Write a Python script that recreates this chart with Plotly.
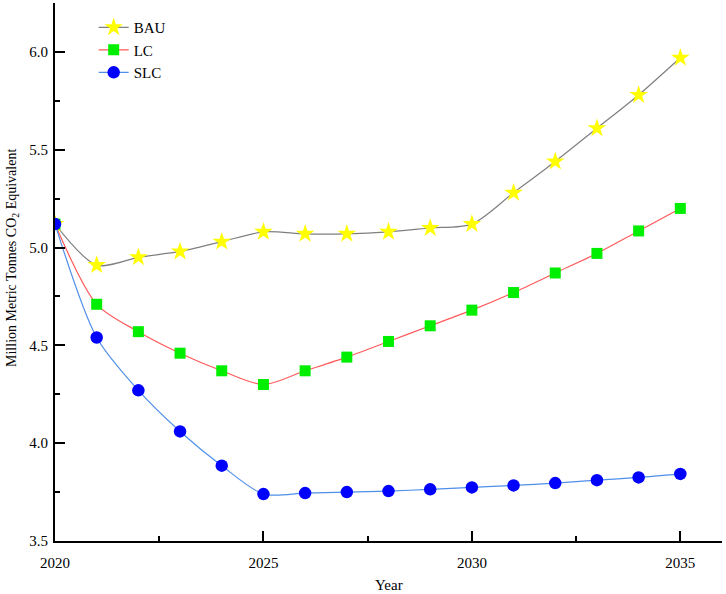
import plotly.graph_objects as go

years = list(range(2020, 2036))
bau = [5.12, 4.91, 4.95, 4.98, 5.03, 5.08, 5.07, 5.07, 5.08, 5.10, 5.12, 5.28, 5.44, 5.61, 5.78, 5.97]
lc = [5.12, 4.71, 4.57, 4.46, 4.37, 4.30, 4.37, 4.44, 4.52, 4.60, 4.68, 4.77, 4.87, 4.97, 5.085, 5.20]
slc = [5.12, 4.54, 4.27, 4.06, 3.885, 3.74, 3.745, 3.75, 3.755, 3.764, 3.774, 3.784, 3.796, 3.811, 3.825, 3.843]

font = "Liberation Serif, Times New Roman, serif"

fig = go.Figure()
fig.add_trace(go.Scatter(x=years, y=bau, name="BAU", mode="lines+markers",
                         line=dict(color="#7f7f7f", width=1.2, shape="spline", smoothing=0.8),
                         marker=dict(symbol="star", size=14, color="#ffff00", line=dict(width=0))))
fig.add_trace(go.Scatter(x=years, y=lc, name="LC", mode="lines+markers",
                         line=dict(color="#ff5a5a", width=1.2, shape="spline", smoothing=0.8),
                         marker=dict(symbol="square", size=11, color="#00ee00", line=dict(width=0))))
fig.add_trace(go.Scatter(x=years, y=slc, name="SLC", mode="lines+markers",
                         line=dict(color="#4f8fea", width=1.2, shape="spline", smoothing=0.8),
                         marker=dict(symbol="circle", size=12.5, color="#0000ff", line=dict(width=0))))

fig.update_layout(
    width=726, height=594,
    margin=dict(l=55, r=4, t=3, b=53),
    paper_bgcolor="white", plot_bgcolor="white",
    font=dict(family=font, size=15, color="black"),
    showlegend=True,
    legend=dict(x=0.058, y=0.985, xanchor="left", yanchor="top",
                bgcolor="rgba(0,0,0,0)", font=dict(size=15), tracegroupgap=0),
    xaxis=dict(range=[2020, 2036], tickvals=[2020, 2025, 2030, 2035], automargin=False,
               ticks="inside", ticklen=10, tickwidth=2, tickcolor="black",
               showline=True, linecolor="black", linewidth=2, showgrid=False, zeroline=False,
               minor=dict(tickvals=[2022.5, 2027.5, 2032.5], ticks="inside", ticklen=5,
                          tickwidth=2, tickcolor="black", showgrid=False),
               ticklabelstandoff=7,
               tickfont=dict(size=15)),
    yaxis=dict(range=[3.5, 6.25], tickvals=[3.5, 4.0, 4.5, 5.0, 5.5, 6.0], tickformat=".1f", automargin=False,
               ticks="inside", ticklen=10, tickwidth=2, tickcolor="black",
               showline=True, linecolor="black", linewidth=2, showgrid=False, zeroline=False,
               minor=dict(tickvals=[3.75, 4.25, 4.75, 5.25, 5.75, 6.25], ticks="inside", ticklen=5,
                          tickwidth=2, tickcolor="black", showgrid=False),
               ticklabelstandoff=2,
               tickfont=dict(size=15)),
    annotations=[
        dict(text="Year", xref="paper", yref="paper", x=0.5, y=-0.082,
             xanchor="center", yanchor="middle", showarrow=False, font=dict(size=15)),
        dict(text="Million Metric Tonnes CO<sub>2</sub> Equivalent", xref="paper", yref="paper",
             x=-0.0645, y=0.526, textangle=-90, xanchor="center", yanchor="middle",
             showarrow=False, font=dict(size=14)),
    ],
)

fig.write_html("out.html", config={"displayModeBar": False},
               post_script="document.body.style.margin='0';document.body.style.overflow='hidden';")
